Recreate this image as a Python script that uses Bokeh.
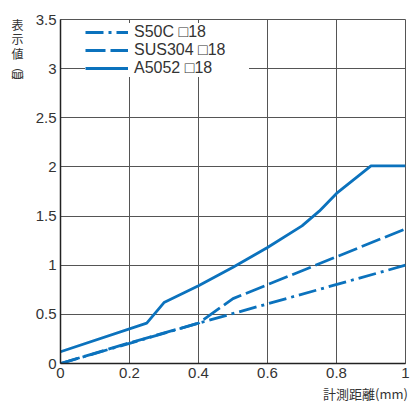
from bokeh.plotting import figure
from bokeh.models import Range1d, FixedTicker, Legend, LegendItem, LinearAxis
from bokeh.embed import file_html
from bokeh.resources import INLINE

# ---- data ----
s50c_x = [0.0, 0.4, 1.0]
s50c_y = [0.0, 0.41, 1.0]

sus304_x = [0.0, 0.2, 0.4, 0.5, 1.0]
sus304_y = [0.0, 0.21, 0.41, 0.66, 1.37]

a5052_x = [0.0, 0.25, 0.3, 0.4, 0.5, 0.6, 0.7, 0.75, 0.8, 0.9, 1.0]
a5052_y = [0.12, 0.41, 0.62, 0.79, 0.98, 1.18, 1.40, 1.55, 1.73, 2.01, 2.01]

series_names = ["S50C □18", "SUS304 □18", "A5052 □18"]

x_ticks = [0.0, 0.2, 0.4, 0.6, 0.8, 1.0]
x_tick_labels = ["0", "0.2", "0.4", "0.6", "0.8", "1"]
y_ticks = [0.0, 0.5, 1.0, 1.5, 2.0, 2.5, 3.0, 3.5]
y_tick_labels = ["0", "0.5", "1", "1.5", "2", "2.5", "3", "3.5"]

y_label_chars = ["表", "示", "値", "︵", "㎜", "︶"]
x_label_text = "計測距離(mm)"

BLUE = "#0b72bd"
GRID = "#555555"
TXT = "#333333"

p = figure(frame_width=345, frame_height=344, output_backend="svg", toolbar_location=None,
           x_range=Range1d(0, 1), y_range=Range1d(0, 3.5),
           min_border_left=60, min_border_right=5, min_border_top=19,
           min_border_bottom=30)
p.background_fill_color = "white"
p.border_fill_color = "white"
p.outline_line_color = GRID
p.outline_line_width = 1

p.xaxis.ticker = FixedTicker(ticks=x_ticks)
p.yaxis.ticker = FixedTicker(ticks=y_ticks)
p.xaxis.major_label_overrides = {t: l for t, l in zip(x_ticks, x_tick_labels)}
p.yaxis.major_label_overrides = {t: l for t, l in zip(y_ticks, y_tick_labels)}
for ax in (p.xaxis, p.yaxis):
    ax.major_tick_line_color = None
    ax.minor_tick_line_color = None
    ax.major_tick_out = 0
    ax.major_tick_in = 0
    ax.minor_tick_out = 0
    ax.minor_tick_in = 0
    ax.axis_line_color = "#222222"
    ax.axis_line_width = 1.5
    ax.major_label_text_font = "Liberation Sans"
    ax.major_label_text_font_size = "15px"
    ax.major_label_text_color = TXT
    ax.major_label_standoff = 4

p.xgrid.grid_line_color = GRID
p.ygrid.grid_line_color = GRID
p.xgrid.grid_line_width = 1
p.ygrid.grid_line_width = 1

r1 = p.line(s50c_x, s50c_y, line_color=BLUE, line_width=2.8, line_dash="18 5 3 5")
r2 = p.line(sus304_x, sus304_y, line_color=BLUE, line_width=2.8, line_dash="20 5")
r3 = p.line(a5052_x, a5052_y, line_color=BLUE, line_width=2.8)

legend = Legend(items=[LegendItem(label=series_names[0], renderers=[r1]),
                       LegendItem(label=series_names[1], renderers=[r2]),
                       LegendItem(label=series_names[2], renderers=[r3])],
                location=(25, 286))
legend.background_fill_color = "white"
legend.background_fill_alpha = 1.0
legend.border_line_color = None
legend.label_text_font = "Liberation Sans"
legend.label_text_font_size = "16px"
legend.label_text_color = TXT
legend.label_height = 16
legend.label_width = 115
legend.glyph_height = 16
legend.glyph_width = 43
legend.label_standoff = 6
legend.spacing = -2
legend.padding = 4
legend.margin = 0
p.add_layout(legend, "center")


def bare_axis(ax):
    ax.axis_line_color = None
    ax.major_tick_line_color = None
    ax.minor_tick_line_color = None
    ax.major_tick_out = 0
    ax.major_tick_in = 0
    ax.minor_tick_out = 0
    ax.minor_tick_in = 0
    ax.major_label_text_color = TXT
    ax.major_label_text_font = "Noto Sans CJK JP"


# vertical (stacked) y-axis title, drawn as tick labels of an extra bare axis
y_label_pos = [3.454, 3.307, 3.159, 3.037, 2.950, 2.869]
ylab_axis = LinearAxis(ticker=FixedTicker(ticks=y_label_pos),
                       major_label_overrides={t: c for t, c in zip(y_label_pos, y_label_chars)})
bare_axis(ylab_axis)
ylab_axis.major_label_standoff = 9
ylab_axis.major_label_text_font_size = "12px"
p.add_layout(ylab_axis, "left")

# x-axis title at lower right, drawn as a tick label of an extra bare axis
x_label_pos = [0.899]
xlab_axis = LinearAxis(ticker=FixedTicker(ticks=x_label_pos),
                       major_label_overrides={x_label_pos[0]: x_label_text})
bare_axis(xlab_axis)
xlab_axis.major_label_standoff = 3
xlab_axis.major_label_text_font_size = "13px"
p.add_layout(xlab_axis, "below")

open("out.html", "w").write(file_html(p, INLINE))
